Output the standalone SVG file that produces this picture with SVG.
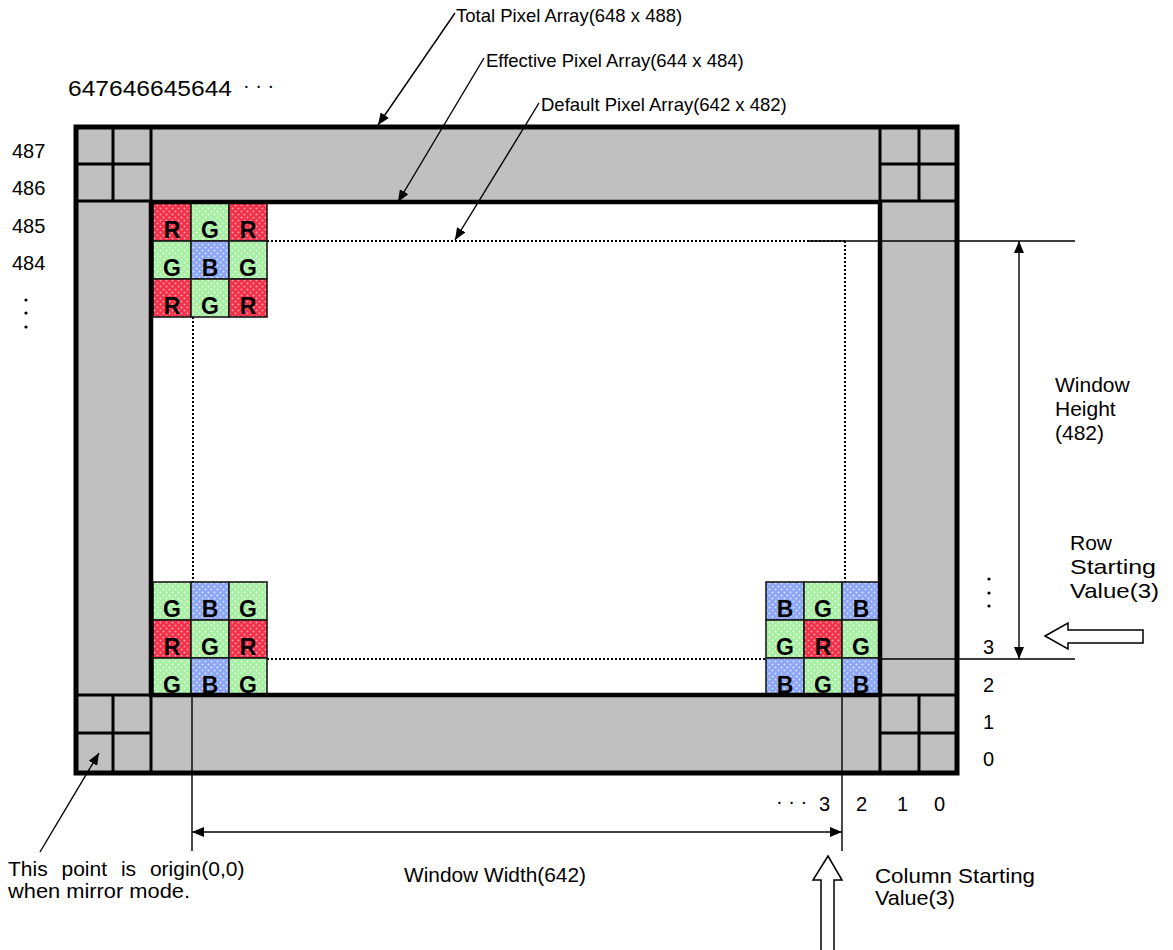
<svg xmlns="http://www.w3.org/2000/svg" width="1173" height="950" viewBox="0 0 1173 950">
<style>
text{font-family:"Liberation Sans",Arial,sans-serif;fill:#000}
.top{font-size:18.5px}
.lbl{font-size:21px}
.num{font-size:20px}
.hd{font-size:21.5px}
.cl{font-size:23px;font-weight:bold;text-anchor:middle}
.cell{stroke:#1a1a1a;stroke-width:1.6}
.thk{stroke:#000;stroke-width:3;fill:none}
.thn{stroke:#000;stroke-width:1.4;fill:none}
.dot{stroke:#000;stroke-width:2;stroke-dasharray:2 2;fill:none}
.r{fill:url(#pr)}.g{fill:url(#pg)}.b{fill:url(#pb)}
</style>
<defs>
<pattern id="pr" width="6" height="6" patternUnits="userSpaceOnUse"><rect width="6" height="6" fill="#f23048"/><circle cx="1.5" cy="1.5" r="1" fill="#ffa0ac"/><circle cx="4.5" cy="4.5" r="1" fill="#ffa0ac"/></pattern>
<pattern id="pg" width="6" height="6" patternUnits="userSpaceOnUse"><rect width="6" height="6" fill="#a6efa2"/><circle cx="1.5" cy="1.5" r="1" fill="#e8fce6"/><circle cx="4.5" cy="4.5" r="1" fill="#e8fce6"/></pattern>
<pattern id="pb" width="6" height="6" patternUnits="userSpaceOnUse"><rect width="6" height="6" fill="#8ca6f6"/><circle cx="1.5" cy="1.5" r="1" fill="#d8e2fc"/><circle cx="4.5" cy="4.5" r="1" fill="#d8e2fc"/></pattern>
<marker id="ah" viewBox="0 0 12 10" refX="12" refY="5" markerWidth="12" markerHeight="10" markerUnits="userSpaceOnUse" orient="auto-start-reverse"><path d="M0,0 L12,5 L0,10 z" fill="#000"/></marker>
</defs>
<rect width="1173" height="950" fill="#fff"/>

<g id="total-array">
<rect x="76" y="127" width="881" height="646" fill="#c0c0c0" stroke="#000" stroke-width="5"/>
<path class="thk" d="M113,127V201M76,164H151M76,201H151M151,127V202"/>
<path class="thk" d="M880,127V202M919,127V201M880,164H957M880,201H957"/>
<path class="thk" d="M76,695H151M76,733H151M113,695V773M151,695V773"/>
<path class="thk" d="M880,695V773M919,695V773M880,695H957M880,733H957"/>
</g>

<g id="effective-array">
<rect x="151" y="202" width="729" height="493" fill="#fff"/>
</g>

<g id="cells-top-left">
<rect class="cell r" x="153" y="203" width="38" height="38"/><rect class="cell g" x="191" y="203" width="38" height="38"/><rect class="cell r" x="229" y="203" width="38" height="38"/>
<rect class="cell g" x="153" y="241" width="38" height="38"/><rect class="cell b" x="191" y="241" width="38" height="38"/><rect class="cell g" x="229" y="241" width="38" height="38"/>
<rect class="cell r" x="153" y="279" width="38" height="38"/><rect class="cell g" x="191" y="279" width="38" height="38"/><rect class="cell r" x="229" y="279" width="38" height="38"/>
<text class="cl" x="172" y="238">R</text><text class="cl" x="210" y="238">G</text><text class="cl" x="248" y="238">R</text>
<text class="cl" x="172" y="276">G</text><text class="cl" x="210" y="276">B</text><text class="cl" x="248" y="276">G</text>
<text class="cl" x="172" y="314">R</text><text class="cl" x="210" y="314">G</text><text class="cl" x="248" y="314">R</text>
</g>

<g id="cells-bottom-left">
<rect class="cell g" x="153" y="582" width="38" height="38"/><rect class="cell b" x="191" y="582" width="38" height="38"/><rect class="cell g" x="229" y="582" width="38" height="38"/>
<rect class="cell r" x="153" y="620" width="38" height="38"/><rect class="cell g" x="191" y="620" width="38" height="38"/><rect class="cell r" x="229" y="620" width="38" height="38"/>
<rect class="cell g" x="153" y="658" width="38" height="38"/><rect class="cell b" x="191" y="658" width="38" height="38"/><rect class="cell g" x="229" y="658" width="38" height="38"/>
<text class="cl" x="172" y="617">G</text><text class="cl" x="210" y="617">B</text><text class="cl" x="248" y="617">G</text>
<text class="cl" x="172" y="655">R</text><text class="cl" x="210" y="655">G</text><text class="cl" x="248" y="655">R</text>
<text class="cl" x="172" y="693">G</text><text class="cl" x="210" y="693">B</text><text class="cl" x="248" y="693">G</text>
</g>

<g id="cells-bottom-right">
<rect class="cell b" x="766" y="582" width="38" height="38"/><rect class="cell g" x="804" y="582" width="38" height="38"/><rect class="cell b" x="842" y="582" width="38" height="38"/>
<rect class="cell g" x="766" y="620" width="38" height="38"/><rect class="cell r" x="804" y="620" width="38" height="38"/><rect class="cell g" x="842" y="620" width="38" height="38"/>
<rect class="cell b" x="766" y="658" width="38" height="38"/><rect class="cell g" x="804" y="658" width="38" height="38"/><rect class="cell b" x="842" y="658" width="38" height="38"/>
<text class="cl" x="785" y="617">B</text><text class="cl" x="823" y="617">G</text><text class="cl" x="861" y="617">B</text>
<text class="cl" x="785" y="655">G</text><text class="cl" x="823" y="655">R</text><text class="cl" x="861" y="655">G</text>
<text class="cl" x="785" y="693">B</text><text class="cl" x="823" y="693">G</text><text class="cl" x="861" y="693">B</text>
</g>

<g id="effective-border">
<rect x="151" y="202" width="729" height="493" fill="none" stroke="#000" stroke-width="4.5"/>
</g>

<g id="default-array">
<path class="dot" d="M267,241H845M845,241V582M193,317V582M267,659H766"/>
</g>

<g id="connectors">
<path class="thn" d="M807,241H1075M880,659H1075M192,695V851M842,696V851"/>
<line class="thn" x1="1019" y1="241" x2="1019" y2="659" marker-start="url(#ah)" marker-end="url(#ah)"/>
<line class="thn" x1="192" y1="832" x2="842" y2="832" marker-start="url(#ah)" marker-end="url(#ah)"/>
<line class="thn" x1="455" y1="13" x2="378" y2="125" marker-end="url(#ah)"/>
<line class="thn" x1="484" y1="58" x2="398" y2="202" marker-end="url(#ah)"/>
<line class="thn" x1="539" y1="103" x2="455" y2="240" marker-end="url(#ah)"/>
<line class="thn" x1="40" y1="852" x2="99" y2="753" marker-end="url(#ah)"/>
<polygon points="1045,636 1068,623 1068,630 1143,630 1143,643 1068,643 1068,649" fill="#fff" stroke="#000" stroke-width="1.5"/>
<polygon points="828,856 842,880 834,880 834,952 821,952 821,880 813,880" fill="#fff" stroke="#000" stroke-width="1.5"/>
</g>

<g id="labels">
<text class="top" x="456" y="22">Total Pixel Array(648 x 488)</text>
<text class="top" x="486" y="67">Effective Pixel Array(644 x 484)</text>
<text class="top" x="541" y="111">Default Pixel Array(642 x 482)</text>
<text class="hd" x="68" y="96" textLength="164" lengthAdjust="spacingAndGlyphs">647646645644</text>
<text class="num" x="243" y="92">· · ·</text>
<text class="num" x="12" y="158">487</text>
<text class="num" x="12" y="195">486</text>
<text class="num" x="12" y="233">485</text>
<text class="num" x="12" y="270">484</text>
<circle cx="26" cy="300" r="1.6"/><circle cx="26" cy="313" r="1.6"/><circle cx="26" cy="327" r="1.6"/>
<circle cx="989" cy="579" r="1.6"/><circle cx="989" cy="593" r="1.6"/><circle cx="989" cy="606" r="1.6"/>
<text class="num" x="983" y="654">3</text>
<text class="num" x="983" y="692">2</text>
<text class="num" x="983" y="729">1</text>
<text class="num" x="983" y="766">0</text>
<text class="num" x="776" y="808">· · ·</text>
<text class="num" x="819" y="811">3</text>
<text class="num" x="856" y="811">2</text>
<text class="num" x="897" y="811">1</text>
<text class="num" x="934" y="811">0</text>
<text class="lbl" x="1055" y="392">Window</text>
<text class="lbl" x="1055" y="416">Height</text>
<text class="lbl" x="1055" y="440">(482)</text>
<text class="lbl" x="1070" y="550">Row</text>
<text class="lbl" x="1070" y="574" textLength="86" lengthAdjust="spacingAndGlyphs">Starting</text>
<text class="lbl" x="1070" y="598" textLength="89" lengthAdjust="spacingAndGlyphs">Value(3)</text>
<text class="lbl" x="404" y="882" textLength="182" lengthAdjust="spacingAndGlyphs">Window Width(642)</text>
<text class="lbl" x="875" y="883" textLength="160" lengthAdjust="spacingAndGlyphs">Column Starting</text>
<text class="lbl" x="875" y="905" textLength="80" lengthAdjust="spacingAndGlyphs">Value(3)</text>
<text class="lbl" x="8" y="876" word-spacing="8">This point is origin(0,0)</text>
<text class="lbl" x="8" y="898" textLength="182" lengthAdjust="spacingAndGlyphs">when mirror mode.</text>
</g>
</svg>
